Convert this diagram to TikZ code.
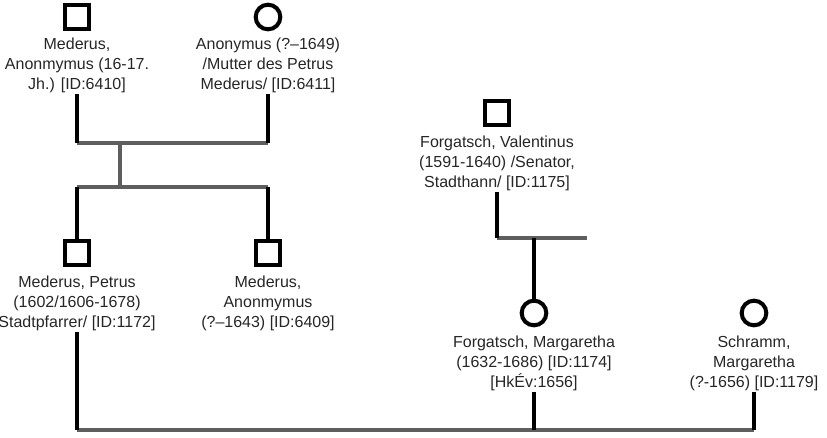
\documentclass[tikz,border=0pt]{standalone}
\usepackage{fontspec}
\setmainfont{Liberation Sans}
\usepackage{tikz}
\usetikzlibrary{ calc, positioning }
\definecolor{barGray}{HTML}{5E5E5E}
\tikzset{
x=0.75pt, y=-0.75pt, % one unit is one pixel of the chart
node distance=5pt, % gap between a symbol and its caption
male/.style={draw, rectangle, line width=3pt, minimum size=18.5pt, inner sep=0pt},
female/.style={draw, circle, line width=3pt, minimum size=18.5pt, inner sep=0pt},
caption/.style={align=center, inner sep=1pt, text=black!85,
  font=\fontsize{12}{15}\selectfont},
kin/.style={line width=3pt, black},
bar/.style={line width=3.5pt, barGray},
}

\begin{document}
\begin{tikzpicture}
  \useasboundingbox (0,0) rectangle (827,438);
  % parents
  \node[male] (m6410) at (77,17) {};
  \node[caption, below=3.5pt of m6410] (t6410) {Mederus,\\ Anonmymus (16-17.\\ Jh.) [ID:6410]};
  \node[female] (f6411) at (268,17) {};
  \node[caption, below=3.5pt of f6411] (t6411) {Anonymus (?–1649)\\ /Mutter des Petrus\\ Mederus/ [ID:6411]};
  % children
  \node[male] (m1172) at (77,253) {};
  \node[caption, below=of m1172] (t1172) {Mederus, Petrus\\ (1602/1606-1678)\\ Stadtpfarrer/ [ID:1172]};
  \node[male] (m6409) at (268,253) {};
  \node[caption, below=of m6409] (t6409) {Mederus,\\ Anonmymus\\ (?–1643) [ID:6409]};
  % Forgatsch
  \node[male] (m1175) at (497,113) {};
  \node[caption, below=of m1175] (t1175) {Forgatsch, Valentinus\\ (1591-1640) /Senator,\\ Stadthann/ [ID:1175]};
  \node[female] (f1174) at (534,313) {};
  \node[caption, below=of f1174] (t1174) {Forgatsch, Margaretha\\ (1632-1686) [ID:1174]\\ {[}HkÉv:1656]};
  \node[female] (f1179) at (754,313) {};
  \node[caption, below=of f1179] (t1179) {Schramm,\\ Margaretha\\ (?-1656) [ID:1179]};

  % junctions
  \coordinate (u1a) at (t6410.south |- 0,143);
  \coordinate (u1b) at (t6411.south |- 0,143);
  \coordinate (u1c) at (120,143);
  \coordinate (s1c) at (120,187);
  \coordinate (s1a) at (m1172.north |- 0,187);
  \coordinate (s1b) at (m6409.north |- 0,187);
  \coordinate (u2a) at (t1175.south |- 0,238);
  \coordinate (u2b) at (587,238);
  \coordinate (u2c) at (f1174.north |- 0,238);
  \coordinate (u3a) at (m1172.south |- 0,430);
  \coordinate (u3b) at (f1174.south |- 0,430);
  \coordinate (u3c) at (f1179.south |- 0,430);

  \draw[bar] (u1a) -- (u1b);
  \draw[bar] (u1c) -- (s1c);
  \draw[bar] (s1a) -- (s1b);
  \draw[bar] (u2a) -- (u2b);
  \draw[bar] (u3a) -- (u3c);

  \draw[kin] (t6410.south) -- (u1a);
  \draw[kin] (t6411.south) -- (u1b);
  \draw[kin] (s1a) -- (m1172);
  \draw[kin] (s1b) -- (m6409);
  \draw[kin] (t1175.south) -- (u2a);
  \draw[kin] (u2c) -- (f1174);
  \draw[kin] (t1172.south -| m1172) -- (u3a);
  \draw[kin] (t1174.south) -- (u3b);
  \draw[kin] (t1179.south) -- (u3c);
\end{tikzpicture}
\end{document}
